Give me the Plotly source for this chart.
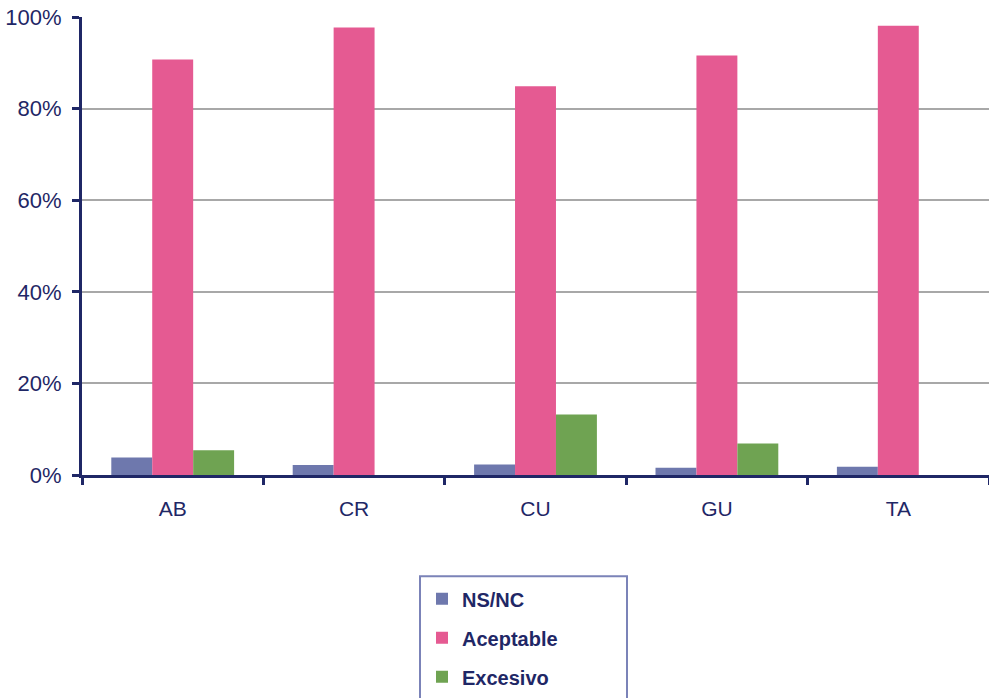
import plotly.graph_objects as go

# Regions and share of answers per category
regions = ["AB", "CR", "CU", "GU", "TA"]
ns_nc = [3.8, 2.2, 2.3, 1.6, 1.8]
aceptable = [90.7, 97.7, 84.9, 91.6, 98.1]
excesivo = [5.4, 0.0, 13.2, 6.9, 0.0]

y_ticks = [0, 20, 40, 60, 80, 100]
y_tick_text = ["0%", "20%", "40%", "60%", "80%", "100%"]

navy = "#1F2766"
font_family = "Liberation Sans, Arial, Helvetica, sans-serif"

W, H = 989, 698
ML, MR, MT, MB = 82, 0, 16.5, 222.5
plot_h = H - MT - MB
plot_w = W - ML - MR


def px_x(x):
    return (x - ML) / plot_w


def px_y(y):
    return (H - MB - y) / plot_h


series = [
    ("NS/NC", ns_nc, "#6E78AD"),
    ("Aceptable", aceptable, "#E55A92"),
    ("Excesivo", excesivo, "#6FA352"),
]

fig = go.Figure()
for name, values, color in series:
    fig.add_trace(go.Bar(
        x=regions, y=values, name=name,
        marker=dict(color=color, line=dict(width=0)),
        legendgroup=name,
    ))

# frame around the legend
fig.add_shape(
    type="rect", xref="paper", yref="paper",
    x0=px_x(420), x1=px_x(627), y0=px_y(700), y1=px_y(577),
    line=dict(color="#7B83B8", width=2), fillcolor="rgba(0,0,0,0)",
    layer="above",
)

fig.update_layout(
    width=W, height=H,
    margin=dict(l=ML, r=MR, t=MT, b=MB, autoexpand=False),
    paper_bgcolor="white", plot_bgcolor="white",
    barmode="group", bargap=0.323, bargroupgap=0,
    font=dict(family=font_family, color=navy, size=20),
    showlegend=True,
    legend=dict(
        xref="paper", yref="paper",
        x=px_x(422), y=px_y(580), xanchor="left", yanchor="top",
        bgcolor="rgba(0,0,0,0)", borderwidth=0,
        font=dict(size=20, color=navy, family=font_family, weight="bold"),
        tracegroupgap=10, itemsizing="constant", itemwidth=30,
    ),
)

fig.update_yaxes(
    range=[0, 100], tickvals=y_ticks, ticktext=y_tick_text,
    showgrid=True, gridcolor="#A8A8A8", gridwidth=1.5,
    zeroline=False, showline=True, linecolor=navy, linewidth=3,
    ticks="outside", ticklen=7, tickwidth=3, tickcolor=navy,
    tickfont=dict(size=22, color=navy), ticklabelstandoff=6,
)
fig.update_xaxes(
    showline=True, linecolor=navy, linewidth=3,
    ticks="outside", ticklen=7, tickwidth=3, tickcolor=navy,
    tickson="boundaries", showgrid=False,
    tickfont=dict(size=21, color=navy), ticklabelstandoff=13,
)

fig.write_html("out.html")
